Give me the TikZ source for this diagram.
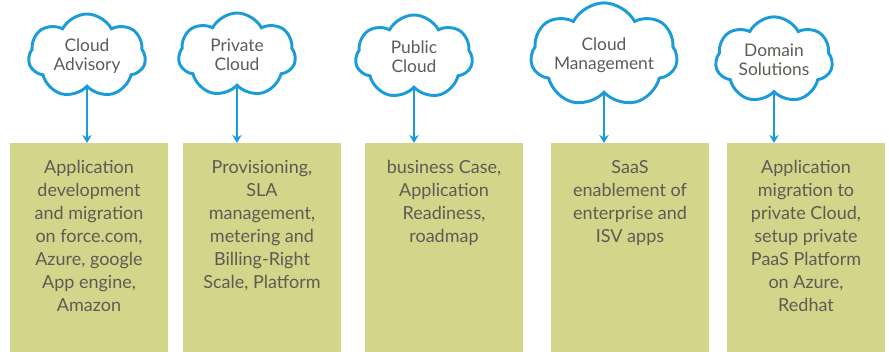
\documentclass[tikz,border=0pt]{standalone}
\usepackage{fontspec}
\setmainfont{Lato}
\usetikzlibrary{positioning,shapes.symbols,arrows.meta}
\definecolor{cloudblue}{RGB}{27,155,215}
\definecolor{boxgreen}{RGB}{211,213,139}
\definecolor{inkgray}{RGB}{92,92,84}
\begin{document}
\begin{tikzpicture}[x=0.75pt, y=-0.75pt,
      cloudnode/.style = {draw=cloudblue, line width=2.2pt, fill=white, shape=cloud,
        cloud puffs=7, cloud puff arc=125, aspect=1.5, inner sep=0pt,
        minimum width=88pt, minimum height=63pt, align=center, text=inkgray,
        font=\fontsize{13}{14}\selectfont},
      box/.style = {fill=boxgreen, minimum width=118.5pt, minimum height=156.75pt,
        anchor=north, inner sep=0pt},
      boxtext/.style = {align=center, text=inkgray, inner sep=0pt,
        font=\fontsize{13.5}{17.25}\selectfont},
      arrow/.style = {draw=cloudblue, line width=1.1pt, -{Stealth[length=6pt,width=7pt]}}]
    \useasboundingbox (0,0) rectangle (889,352);
    % boxes
    \node[box] (b1) at (89,143) {};
    \node[box] (b2) at (262,143) {};
    \node[box] (b3) at (444,143) {};
    \node[box] (b4) at (630,143) {};
    \node[box] (b5) at (806,143) {};

    % texts in the boxes
    \node[boxtext, below=13pt of b1.north] (t1) {Application\\development\\and migration\\on force.com,\\Azure, google\\App engine,\\Amazon};
    \node[boxtext, below=13pt of b2.north] (t2) {Provisioning,\\SLA\\management,\\metering and\\Billing-Right\\Scale, Platform};
    \node[boxtext, below=13pt of b3.north] (t3) {business Case,\\Application\\Readiness,\\roadmap};
    \node[boxtext, below=13pt of b4.north] (t4) {SaaS\\enablement of\\enterprise and\\ISV apps};
    \node[boxtext, below=13pt of b5.north] (t5) {Application\\migration to\\private Cloud,\\setup private\\PaaS Platform\\on Azure,\\Redhat};

    % clouds
    \node[cloudnode] (c1) at (87,56) {Cloud\\Advisory};
    \node[cloudnode] (c2) at (237,55) {Private\\Cloud};
    \node[cloudnode] (c3) at (414,57) {Public\\Cloud};
    \node[cloudnode, aspect=1.9, minimum width=106pt, minimum height=66pt] (c4) at (604,55) {Cloud\\Management};
    \node[cloudnode] (c5) at (774,60) {Domain\\Solutions};

    % arrows
    \foreach \i in {1,...,5}
      \draw[arrow] (c\i.south) -- (c\i.south |- b\i.north);
  \end{tikzpicture}
\end{document}
